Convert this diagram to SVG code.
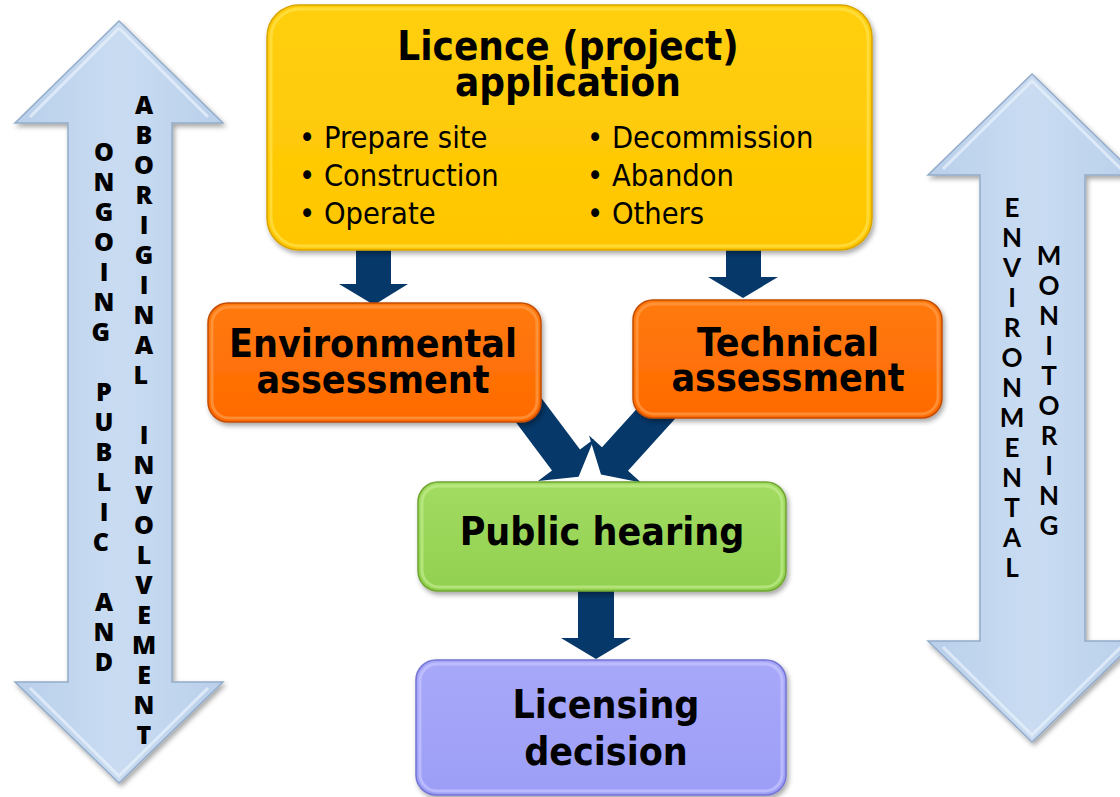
<svg xmlns="http://www.w3.org/2000/svg" width="1120" height="797" viewBox="0 0 1120 797">
<style>
.box-t{font-family:"DejaVu Sans Condensed","DejaVu Sans","Liberation Sans",sans-serif;font-weight:bold;fill:#000;text-anchor:middle}
.bul{font-family:"DejaVu Sans Condensed","DejaVu Sans","Liberation Sans",sans-serif;font-size:30.5px;fill:#000}
.vl{font-family:"Open Sans","Liberation Sans",sans-serif;font-weight:800;font-size:25px;fill:#000;text-anchor:middle}
.vr{font-family:Lato,"Liberation Sans",sans-serif;font-weight:700;font-size:26px;fill:#000;text-anchor:middle}
.conn{fill:#06386a}
.big{fill:url(#gBlue);stroke:#93acc9;stroke-width:1.5;filter:url(#sh)}
.hl{fill:none;stroke-width:3;opacity:0.7}
</style>
<defs>
<filter id="sh" x="-10%" y="-10%" width="120%" height="130%">
<feDropShadow dx="2" dy="3" stdDeviation="2.5" flood-color="#000" flood-opacity="0.35"/>
</filter>
<linearGradient id="gBlue" x1="0" y1="0" x2="1" y2="0">
<stop offset="0" stop-color="#b9cfea"/><stop offset="0.5" stop-color="#c9dcf2"/><stop offset="1" stop-color="#b9cfea"/>
</linearGradient>
<linearGradient id="gY" x1="0" y1="0" x2="0" y2="1">
<stop offset="0" stop-color="#ffcf10"/><stop offset="1" stop-color="#ffc600"/>
</linearGradient>
<linearGradient id="gO" x1="0" y1="0" x2="0" y2="1">
<stop offset="0" stop-color="#ff7a10"/><stop offset="1" stop-color="#ff6a00"/>
</linearGradient>
<linearGradient id="gG" x1="0" y1="0" x2="0" y2="1">
<stop offset="0" stop-color="#a2dc62"/><stop offset="1" stop-color="#92d050"/>
</linearGradient>
<linearGradient id="gP" x1="0" y1="0" x2="0" y2="1">
<stop offset="0" stop-color="#a8a8fa"/><stop offset="1" stop-color="#9c9ef6"/>
</linearGradient>
</defs>
<rect width="1120" height="797" fill="#fff"/>

<g id="side-left">
<path class="big" d="M119,21 L223,123 L172,123 L172,682 L223,682 L119,783 L15,682 L68,682 L68,123 L15,123 Z"/>
<path d="M119,28 L208,117 M30,117 L119,28 M30,688 L119,776 L208,688" fill="none" stroke="#e6effa" stroke-width="3" opacity="0.8"/>
<text class="vl"><tspan x="104" y="161">O</tspan><tspan x="104" dy="30">N</tspan><tspan x="104" dy="30">G</tspan><tspan x="104" dy="30">O</tspan><tspan x="104" dy="30">I</tspan><tspan x="104" dy="30">N</tspan><tspan x="104" dy="30">G</tspan> <tspan x="104" dy="60">P</tspan><tspan x="104" dy="30">U</tspan><tspan x="104" dy="30">B</tspan><tspan x="104" dy="30">L</tspan><tspan x="104" dy="30">I</tspan><tspan x="104" dy="30">C</tspan> <tspan x="104" dy="60">A</tspan><tspan x="104" dy="30">N</tspan><tspan x="104" dy="30">D</tspan></text>
<text class="vl"><tspan x="144" y="114">A</tspan><tspan x="144" dy="30">B</tspan><tspan x="144" dy="30">O</tspan><tspan x="144" dy="30">R</tspan><tspan x="144" dy="30">I</tspan><tspan x="144" dy="30">G</tspan><tspan x="144" dy="30">I</tspan><tspan x="144" dy="30">N</tspan><tspan x="144" dy="30">A</tspan><tspan x="144" dy="30">L</tspan> <tspan x="144" dy="60">I</tspan><tspan x="144" dy="30">N</tspan><tspan x="144" dy="30">V</tspan><tspan x="144" dy="30">O</tspan><tspan x="144" dy="30">L</tspan><tspan x="144" dy="30">V</tspan><tspan x="144" dy="30">E</tspan><tspan x="144" dy="30">M</tspan><tspan x="144" dy="30">E</tspan><tspan x="144" dy="30">N</tspan><tspan x="144" dy="30">T</tspan></text>
</g>

<g id="side-right">
<path class="big" d="M1032,74 L1136,175 L1085,175 L1085,641 L1136,641 L1032,742 L928,641 L980,641 L980,175 L928,175 Z"/>
<path d="M943,169 L1032,81 L1121,169 M943,647 L1032,735 L1121,647" fill="none" stroke="#e6effa" stroke-width="3" opacity="0.8"/>
<text class="vr"><tspan x="1012" y="217">E</tspan><tspan x="1012" dy="30">N</tspan><tspan x="1012" dy="30">V</tspan><tspan x="1012" dy="30">I</tspan><tspan x="1012" dy="30">R</tspan><tspan x="1012" dy="30">O</tspan><tspan x="1012" dy="30">N</tspan><tspan x="1012" dy="30">M</tspan><tspan x="1012" dy="30">E</tspan><tspan x="1012" dy="30">N</tspan><tspan x="1012" dy="30">T</tspan><tspan x="1012" dy="30">A</tspan><tspan x="1012" dy="30">L</tspan></text>
<text class="vr"><tspan x="1049" y="265">M</tspan><tspan x="1049" dy="30">O</tspan><tspan x="1049" dy="30">N</tspan><tspan x="1049" dy="30">I</tspan><tspan x="1049" dy="30">T</tspan><tspan x="1049" dy="30">O</tspan><tspan x="1049" dy="30">R</tspan><tspan x="1049" dy="30">I</tspan><tspan x="1049" dy="30">N</tspan><tspan x="1049" dy="30">G</tspan></text>
</g>

<g id="connectors">
<path class="conn" d="M356,240 L391,240 L391,284 L408,284 L374,305 L339,284 L356,284 Z"/>
<path class="conn" d="M726,240 L761,240 L761,277 L778,277 L743,298 L708,277 L726,277 Z"/>
<path class="conn" d="M578,585 L614,585 L614,638 L631,638 L596,659 L561,638 L578,638 Z"/>
<path class="conn" d="M526,377.5 L580,449.5 L594,439 L578.6,476.8 L538,481 L552,470.5 L498,398.5 Z"/>
<path class="conn" d="M695,396.7 L628,470.7 L641,482.5 L601,474.5 L589,435.5 L602,447.3 L669,373.3 Z"/>
</g>

<g id="licence-application">
<rect x="267" y="5" width="605" height="245" rx="32" fill="url(#gY)" stroke="#d9a400" stroke-width="1.5" filter="url(#sh)"/>
<rect x="271" y="9" width="597" height="237" rx="29" class="hl" stroke="#ffe34d"/>
<text class="box-t" font-size="40"><tspan x="568" y="60">Licence (project)</tspan><tspan x="568" y="96">application</tspan></text>
<text class="bul"><tspan x="299" y="148">• Prepare site</tspan><tspan x="299" y="186">• Construction</tspan><tspan x="299" y="224">• Operate</tspan></text>
<text class="bul"><tspan x="587" y="148">• Decommission</tspan><tspan x="587" y="186">• Abandon</tspan><tspan x="587" y="224">• Others</tspan></text>
</g>

<g id="environmental-assessment">
<rect x="208" y="303" width="333" height="119" rx="20" fill="url(#gO)" stroke="#c24c00" stroke-width="1.5" filter="url(#sh)"/>
<rect x="212" y="307" width="325" height="111" rx="17" class="hl" stroke="#ff9d4a"/>
<text class="box-t" font-size="39"><tspan x="373" y="357">Environmental</tspan><tspan x="373" y="393">assessment</tspan></text>
</g>

<g id="technical-assessment">
<rect x="633" y="300" width="309" height="118" rx="20" fill="url(#gO)" stroke="#c24c00" stroke-width="1.5" filter="url(#sh)"/>
<rect x="637" y="304" width="301" height="110" rx="17" class="hl" stroke="#ff9d4a"/>
<text class="box-t" font-size="39"><tspan x="788" y="356">Technical</tspan><tspan x="788" y="391">assessment</tspan></text>
</g>

<g id="public-hearing">
<rect x="418" y="482" width="368" height="109" rx="20" fill="url(#gG)" stroke="#6fa532" stroke-width="1.5" filter="url(#sh)"/>
<rect x="422" y="486" width="360" height="101" rx="17" class="hl" stroke="#c0ec8c"/>
<text class="box-t" font-size="39" x="602" y="545">Public hearing</text>
</g>

<g id="licensing-decision">
<rect x="416" y="660" width="370" height="135" rx="20" fill="url(#gP)" stroke="#7474d4" stroke-width="1.5" filter="url(#sh)"/>
<rect x="420" y="664" width="362" height="127" rx="17" class="hl" stroke="#c6c6ff"/>
<text class="box-t" font-size="39"><tspan x="606" y="718">Licensing</tspan><tspan x="606" y="765">decision</tspan></text>
</g>
</svg>
